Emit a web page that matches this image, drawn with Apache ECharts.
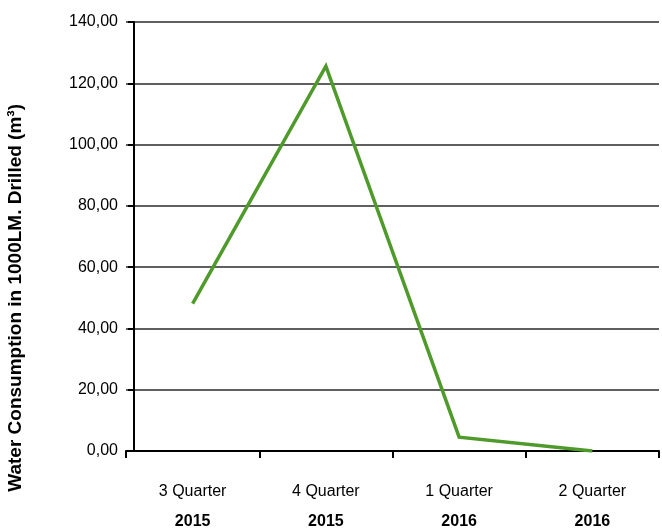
<!DOCTYPE html>
<html>
<head>
<meta charset="utf-8">
<script src="https://cdn.jsdelivr.net/npm/echarts@6/dist/echarts.min.js"></script>
<style>
  html, body { margin: 0; padding: 0; background: #fff; }
  #chart { width: 662px; height: 530px; }
</style>
</head>
<body>
<div id="chart"></div>
<script>
// Quarterly water consumption per 1000 linear metres drilled
var quarters = ['3 Quarter', '4 Quarter', '1 Quarter', '2 Quarter'];
var years = ['2015', '2015', '2016', '2016'];
var consumption = [48.1, 125.6, 4.5, 0.0];
var yTicks = { min: 0, max: 140, interval: 20 };
var yTitle = 'Water Consumption in 1000LM. Drilled (m³)';

var categories = quarters.map(function (q, i) { return q + '\n' + years[i]; });

var chart = echarts.init(document.getElementById('chart'));
chart.setOption({
  animation: false,
  backgroundColor: '#ffffff',
  textStyle: { fontFamily: 'Liberation Sans, Arial, sans-serif' },
  grid: { left: 126, right: 3, top: 22, bottom: 77, containLabel: false },
  xAxis: {
    type: 'category',
    data: categories,
    boundaryGap: true,
    axisLine: { lineStyle: { color: '#000', width: 2 } },
    axisTick: { show: true, length: 7, lineStyle: { color: '#000', width: 2 } },
    axisLabel: {
      margin: 26,
      formatter: function (v) {
        var p = v.split('\n');
        return '{q|' + p[0] + '}\n{y|' + p[1] + '}';
      },
      rich: {
        q: { fontSize: 16, color: '#000', lineHeight: 30, fontFamily: 'Liberation Sans' },
        y: { fontSize: 16, color: '#000', fontWeight: 'bold', lineHeight: 30, fontFamily: 'Liberation Sans' }
      }
    },
    splitLine: { show: false }
  },
  yAxis: {
    type: 'value',
    min: yTicks.min,
    max: yTicks.max,
    interval: yTicks.interval,
    offset: -8,
    axisLine: { show: true, lineStyle: { color: '#000', width: 2 } },
    axisTick: { show: true, length: 6, lineStyle: { color: '#000', width: 2 } },
    axisLabel: {
      margin: 16,
      fontSize: 16,
      color: '#000',
      fontFamily: 'Liberation Sans',
      formatter: function (v) { return v.toFixed(2).replace('.', ','); }
    },
    splitLine: { show: true, lineStyle: { color: '#5f5f5f', width: 2 } }
  },
  graphic: [{
    type: 'text',
    left: 6,
    top: 104,
    rotation: Math.PI / 2,
    style: {
      text: yTitle,
      font: 'bold 19px "Liberation Sans", Arial, sans-serif',
      fill: '#000'
    }
  }],
  series: [{
    type: 'line',
    data: consumption,
    symbol: 'none',
    lineStyle: { color: '#4e9a2b', width: 3.5, join: 'miter' },
    itemStyle: { color: '#4e9a2b' }
  }]
});
</script>
</body>
</html>
